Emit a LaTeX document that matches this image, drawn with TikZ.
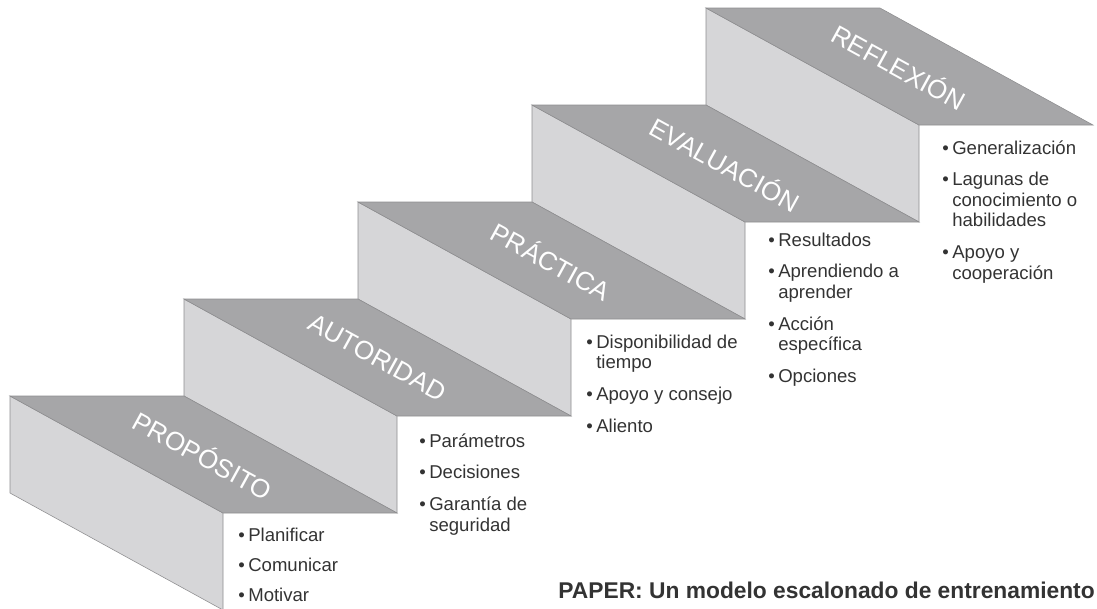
\documentclass[tikz,border=0pt]{standalone}
\usepackage{fontspec}
\setmainfont{Liberation Sans}
\usepackage{tikz}

\definecolor{topgray}{HTML}{A6A6A8}
\definecolor{sidegray}{HTML}{D6D6D8}
\definecolor{edgegray}{HTML}{8E8E90}
\definecolor{textgray}{HTML}{333333}

\tikzset{
  steplabel/.style={text=white, inner sep=0pt, rotate=-28.8,
    font=\fontsize{18.5}{20}\selectfont},
  itemlist/.style={anchor=base west, inner sep=0pt, text=textgray,
    font=\fontsize{13.2}{14.6}\selectfont},
}
\newcommand{\stepitems}[1]{\begin{tabular}[t]{@{}l@{\hspace{2.5pt}}l@{}}#1\end{tabular}}

\begin{document}
\begin{tikzpicture}[x=0.025cm, y=-0.025cm]
      \useasboundingbox (0,0) rectangle (1097,608);
      \clip (0,0) rectangle (1097,608);
      % steps, back to front
      \foreach \n/\name in {5/REFLEXIÓN,4/EVALUACIÓN,3/PRÁCTICA,2/AUTORIDAD,1/PROPÓSITO} {
        \coordinate (p\n) at ({10+174*(\n-1)},{396-97*(\n-1)});
        \filldraw[fill=sidegray, draw=edgegray] (p\n) -- ++(213,117) -- ++(0,97) -- ++(-213,-117) -- cycle;
        \filldraw[fill=topgray, draw=edgegray] (p\n) -- ++(174,0) -- ++(213,117) -- ++(-174,0) -- cycle;
        \node[steplabel] (lbl\n) at ([shift={(193.5,58.5)}]p\n) {\name};
      }
      % what goes with each step
      \node[itemlist] (list1) at (238,541) {\stepitems{\textbullet & Planificar\\[7pt]
        \textbullet & Comunicar\\[7pt] \textbullet & Motivar}};
      \node[itemlist] (list2) at (419,447) {\stepitems{\textbullet & Parámetros\\[8pt]
        \textbullet & Decisiones\\[8pt] \textbullet & Garantía de\\ & seguridad}};
      \node[itemlist] (list3) at (586,348) {\stepitems{\textbullet & Disponibilidad de\\ & tiempo\\[8pt]
        \textbullet & Apoyo y consejo\\[8pt] \textbullet & Aliento}};
      \node[itemlist] (list4) at (768,246) {\stepitems{\textbullet & Resultados\\[8pt]
        \textbullet & Aprendiendo a\\ & aprender\\[8pt] \textbullet & Acción\\ & específica\\[8pt]
        \textbullet & Opciones}};
      \node[itemlist] (list5) at (942,154) {\stepitems{\textbullet & Generalización\\[8pt]
        \textbullet & Lagunas de\\ & conocimiento o\\ & habilidades\\[8pt]
        \textbullet & Apoyo y\\ & cooperación}};
      \node[anchor=base east, inner sep=0pt, text=textgray, font=\fontsize{16.2}{18}\selectfont\bfseries]
        (title) at (1095,598) {PAPER: Un modelo escalonado de entrenamiento};
\end{tikzpicture}
\end{document}
